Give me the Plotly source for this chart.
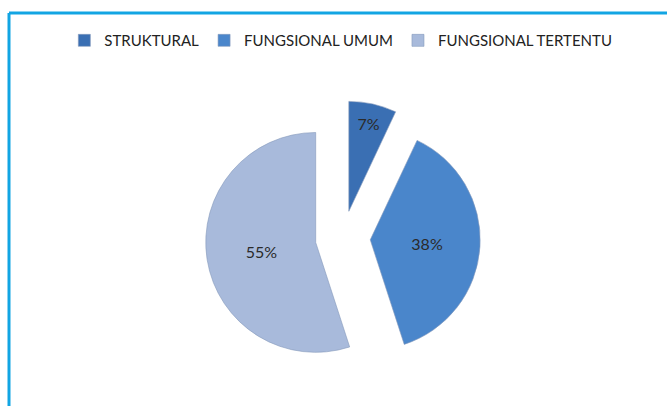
import plotly.graph_objects as go

labels = ['STRUKTURAL', 'FUNGSIONAL UMUM', 'FUNGSIONAL TERTENTU']
values = [7, 38, 55]
colors = ['#3a6fb3', '#4a86cb', '#a8badb']

fig = go.Figure(data=[
    go.Pie(labels=labels, values=values, sort=False, direction='clockwise',
           rotation=0, pull=[0.25, 0.25, 0.25],
           textinfo='percent', textposition='inside', insidetextorientation='horizontal',
           texttemplate='%{percent:.0%}',
           textfont=dict(size=16, color='#2a2a2a', family='Lato, sans-serif'),
           marker=dict(colors=colors, line=dict(color='#8598bb', width=0.6)),
           domain=dict(x=[0.308, 0.720], y=[0.075, 0.752]),
           hoverinfo='label+percent')
])

fig.update_layout(
    width=667, height=406,
    margin=dict(l=0, r=0, t=0, b=0),
    paper_bgcolor='white', plot_bgcolor='white',
    legend=dict(orientation='h', x=0.511, xanchor='center', y=0.9, yanchor='middle',
                font=dict(size=15, color='#222222', family='Lato, sans-serif'),
                itemwidth=30, traceorder='normal'),
    shapes=[
        dict(type='line', xref='paper', yref='paper', x0=0.0135, x1=0.0135, y0=0, y1=0.968,
             line=dict(color='#12a5e3', width=3)),
        dict(type='line', xref='paper', yref='paper', x0=0.0135, x1=1, y0=0.968, y1=0.968,
             line=dict(color='#12a5e3', width=3)),
    ]
)

# drop the browser's default page margin so the chart sits at 0,0
fig.write_html('out.html', config={'displayModeBar': False},
               post_script="document.body.style.margin='0';")
